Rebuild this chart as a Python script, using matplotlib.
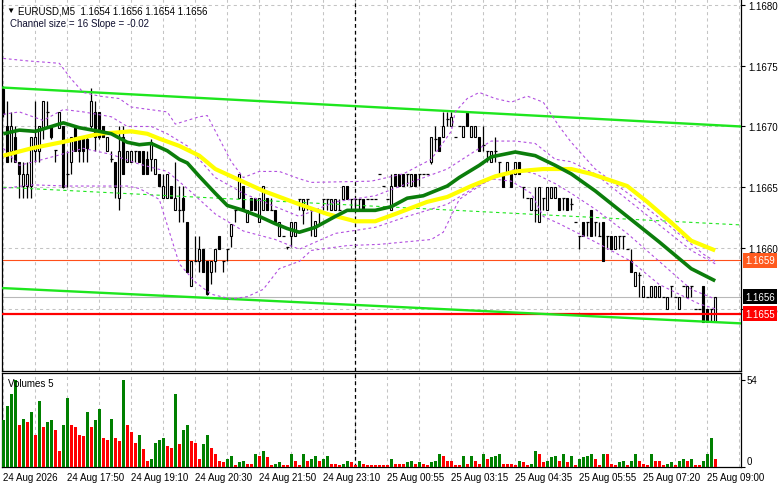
import numpy as np
import matplotlib
matplotlib.use("Agg")
import matplotlib.pyplot as plt
from matplotlib.transforms import blended_transform_factory

plt.rcParams["font.family"] = ["Liberation Sans", "DejaVu Sans"]

# ── Candles (EURUSD M5) ────────────────────────────────────────────────────────
opens = [
    1.16731, 1.16700, 1.16680, 1.16691, 1.16671, 1.16651, 1.16651, 1.16651, 1.16680, 1.16680,
    1.16699, 1.16712, 1.16700, 1.16681, 1.16699, 1.16700, 1.16661, 1.16671, 1.16700, 1.16691,
    1.16691, 1.16690, 1.16700, 1.16712, 1.16712, 1.16700, 1.16680, 1.16673, 1.16671, 1.16641,
    1.16691, 1.16671, 1.16671, 1.16680, 1.16680, 1.16680, 1.16673, 1.16673, 1.16661, 1.16661,
    1.16641, 1.16641, 1.16651, 1.16631, 1.16631, 1.16641, 1.16621, 1.16569, 1.16589, 1.16589,
    1.16599, 1.16589, 1.16580, 1.16589, 1.16610, 1.16589, 1.16599, 1.16610, 1.16631, 1.16641,
    1.16651, 1.16621, 1.16641, 1.16641, 1.16621, 1.16631, 1.16641, 1.16631, 1.16631, 1.16610,
    1.16610, 1.16601, 1.16610, 1.16610, 1.16640, 1.16631, 1.16640, 1.16631, 1.16610, 1.16631,
    1.16640, 1.16640, 1.16631, 1.16631, 1.16631, 1.16640, 1.16651, 1.16640, 1.16640, 1.16640,
    1.16640, 1.16640, 1.16640, 1.16640, 1.16661, 1.16651, 1.16640, 1.16631, 1.16661, 1.16661,
    1.16661, 1.16661, 1.16651, 1.16661, 1.16661, 1.16661, 1.16661, 1.16671, 1.16690, 1.16691,
    1.16691, 1.16706, 1.16700, 1.16691, 1.16700, 1.16691, 1.16712, 1.16691, 1.16691, 1.16691,
    1.16685, 1.16680, 1.16671, 1.16680, 1.16671, 1.16661, 1.16661, 1.16661, 1.16661, 1.16671,
    1.16650, 1.16641, 1.16631, 1.16631, 1.16621, 1.16641, 1.16631, 1.16641, 1.16641, 1.16641,
    1.16641, 1.16641, 1.16636, 1.16621, 1.16610, 1.16621, 1.16621, 1.16631, 1.16621, 1.16610,
    1.16621, 1.16610, 1.16610, 1.16599, 1.16610, 1.16610, 1.16599, 1.16589, 1.16569, 1.16578,
    1.16560, 1.16560, 1.16560, 1.16560, 1.16560, 1.16560, 1.16550, 1.16569, 1.16560, 1.16550,
    1.16569, 1.16560, 1.16569, 1.16550, 1.16550, 1.16569, 1.16550, 1.16550, 1.16540,
]
highs = [
    1.16733, 1.16721, 1.16712, 1.16700, 1.16671, 1.16671, 1.16671, 1.16691, 1.16721, 1.16700,
    1.16721, 1.16721, 1.16700, 1.16681, 1.16712, 1.16700, 1.16680, 1.16691, 1.16700, 1.16691,
    1.16691, 1.16691, 1.16732, 1.16721, 1.16712, 1.16700, 1.16691, 1.16680, 1.16671, 1.16700,
    1.16700, 1.16680, 1.16680, 1.16680, 1.16680, 1.16680, 1.16680, 1.16690, 1.16673, 1.16661,
    1.16661, 1.16661, 1.16651, 1.16671, 1.16651, 1.16651, 1.16621, 1.16589, 1.16610, 1.16610,
    1.16599, 1.16589, 1.16589, 1.16599, 1.16610, 1.16589, 1.16599, 1.16620, 1.16631, 1.16661,
    1.16651, 1.16631, 1.16641, 1.16641, 1.16641, 1.16651, 1.16641, 1.16641, 1.16631, 1.16621,
    1.16610, 1.16601, 1.16621, 1.16621, 1.16640, 1.16640, 1.16640, 1.16631, 1.16622, 1.16631,
    1.16640, 1.16640, 1.16640, 1.16640, 1.16640, 1.16651, 1.16651, 1.16640, 1.16640, 1.16640,
    1.16640, 1.16640, 1.16640, 1.16640, 1.16661, 1.16651, 1.16640, 1.16661, 1.16661, 1.16661,
    1.16661, 1.16661, 1.16661, 1.16661, 1.16661, 1.16661, 1.16661, 1.16691, 1.16700, 1.16691,
    1.16712, 1.16712, 1.16712, 1.16691, 1.16700, 1.16700, 1.16713, 1.16700, 1.16700, 1.16691,
    1.16700, 1.16680, 1.16680, 1.16691, 1.16671, 1.16661, 1.16671, 1.16661, 1.16671, 1.16671,
    1.16650, 1.16641, 1.16641, 1.16650, 1.16650, 1.16641, 1.16650, 1.16650, 1.16650, 1.16641,
    1.16641, 1.16641, 1.16641, 1.16621, 1.16610, 1.16621, 1.16621, 1.16631, 1.16621, 1.16621,
    1.16621, 1.16610, 1.16610, 1.16610, 1.16610, 1.16610, 1.16599, 1.16599, 1.16580, 1.16580,
    1.16569, 1.16560, 1.16569, 1.16569, 1.16569, 1.16560, 1.16560, 1.16569, 1.16560, 1.16560,
    1.16569, 1.16569, 1.16569, 1.16550, 1.16550, 1.16569, 1.16550, 1.16550, 1.16560,
]
lows = [
    1.16708, 1.16671, 1.16671, 1.16671, 1.16641, 1.16641, 1.16641, 1.16641, 1.16671, 1.16671,
    1.16690, 1.16700, 1.16690, 1.16671, 1.16699, 1.16649, 1.16650, 1.16661, 1.16680, 1.16671,
    1.16671, 1.16671, 1.16698, 1.16680, 1.16690, 1.16691, 1.16680, 1.16671, 1.16641, 1.16631,
    1.16661, 1.16671, 1.16671, 1.16671, 1.16671, 1.16661, 1.16661, 1.16663, 1.16661, 1.16651,
    1.16641, 1.16641, 1.16641, 1.16631, 1.16621, 1.16621, 1.16580, 1.16569, 1.16589, 1.16580,
    1.16580, 1.16561, 1.16570, 1.16580, 1.16599, 1.16580, 1.16589, 1.16601, 1.16621, 1.16641,
    1.16631, 1.16621, 1.16631, 1.16631, 1.16621, 1.16631, 1.16631, 1.16631, 1.16621, 1.16610,
    1.16610, 1.16599, 1.16601, 1.16610, 1.16631, 1.16620, 1.16631, 1.16610, 1.16610, 1.16620,
    1.16631, 1.16631, 1.16631, 1.16631, 1.16631, 1.16640, 1.16640, 1.16631, 1.16631, 1.16631,
    1.16631, 1.16640, 1.16640, 1.16640, 1.16661, 1.16651, 1.16640, 1.16631, 1.16651, 1.16651,
    1.16651, 1.16651, 1.16651, 1.16651, 1.16651, 1.16661, 1.16661, 1.16669, 1.16680, 1.16680,
    1.16691, 1.16700, 1.16700, 1.16691, 1.16700, 1.16691, 1.16700, 1.16691, 1.16691, 1.16680,
    1.16680, 1.16671, 1.16671, 1.16671, 1.16661, 1.16650, 1.16661, 1.16650, 1.16661, 1.16661,
    1.16641, 1.16641, 1.16631, 1.16621, 1.16621, 1.16631, 1.16631, 1.16641, 1.16641, 1.16631,
    1.16631, 1.16631, 1.16631, 1.16621, 1.16599, 1.16610, 1.16610, 1.16610, 1.16610, 1.16610,
    1.16589, 1.16599, 1.16599, 1.16599, 1.16599, 1.16599, 1.16599, 1.16580, 1.16569, 1.16560,
    1.16560, 1.16560, 1.16560, 1.16560, 1.16560, 1.16560, 1.16550, 1.16560, 1.16560, 1.16550,
    1.16569, 1.16560, 1.16560, 1.16550, 1.16550, 1.16539, 1.16539, 1.16539, 1.16540,
]
closes = [
    1.16710, 1.16671, 1.16700, 1.16671, 1.16661, 1.16661, 1.16661, 1.16691, 1.16691, 1.16700,
    1.16721, 1.16712, 1.16691, 1.16681, 1.16712, 1.16650, 1.16661, 1.16691, 1.16680, 1.16680,
    1.16680, 1.16682, 1.16721, 1.16691, 1.16691, 1.16691, 1.16691, 1.16673, 1.16650, 1.16680,
    1.16661, 1.16680, 1.16680, 1.16680, 1.16671, 1.16661, 1.16661, 1.16687, 1.16673, 1.16651,
    1.16651, 1.16661, 1.16641, 1.16641, 1.16631, 1.16631, 1.16580, 1.16589, 1.16589, 1.16599,
    1.16580, 1.16562, 1.16589, 1.16599, 1.16599, 1.16589, 1.16599, 1.16620, 1.16631, 1.16661,
    1.16631, 1.16631, 1.16631, 1.16631, 1.16641, 1.16651, 1.16631, 1.16631, 1.16621, 1.16621,
    1.16610, 1.16601, 1.16621, 1.16621, 1.16640, 1.16640, 1.16640, 1.16631, 1.16622, 1.16631,
    1.16640, 1.16640, 1.16640, 1.16640, 1.16631, 1.16651, 1.16640, 1.16640, 1.16640, 1.16640,
    1.16631, 1.16640, 1.16640, 1.16640, 1.16661, 1.16651, 1.16640, 1.16651, 1.16651, 1.16651,
    1.16651, 1.16661, 1.16661, 1.16651, 1.16661, 1.16661, 1.16661, 1.16691, 1.16690, 1.16680,
    1.16700, 1.16706, 1.16708, 1.16691, 1.16700, 1.16700, 1.16700, 1.16700, 1.16700, 1.16680,
    1.16685, 1.16680, 1.16680, 1.16680, 1.16671, 1.16650, 1.16671, 1.16650, 1.16671, 1.16661,
    1.16650, 1.16641, 1.16641, 1.16631, 1.16650, 1.16641, 1.16650, 1.16650, 1.16650, 1.16631,
    1.16641, 1.16631, 1.16636, 1.16621, 1.16610, 1.16610, 1.16621, 1.16610, 1.16621, 1.16610,
    1.16589, 1.16610, 1.16599, 1.16610, 1.16610, 1.16610, 1.16599, 1.16580, 1.16580, 1.16578,
    1.16569, 1.16560, 1.16569, 1.16569, 1.16569, 1.16560, 1.16560, 1.16569, 1.16560, 1.16560,
    1.16569, 1.16569, 1.16569, 1.16550, 1.16550, 1.16539, 1.16539, 1.16550, 1.16560,
]
volumes = [
    29, 38, 45, 54, 26, 30, 28, 34, 20, 41,
    25, 28, 29, 23, 10, 26, 43, 26, 25, 20,
    19, 34, 25, 29, 36, 18, 17, 30, 18, 16,
    54, 26, 22, 15, 20, 11, 4, 5, 15, 17,
    18, 13, 12, 45, 14, 23, 26, 16, 15, 5,
    14, 20, 12, 8, 4, 3, 5, 7, 1, 3,
    4, 2, 2, 8, 7, 10, 6, 1, 2, 3,
    1, 1, 8, 4, 1, 8, 4, 5, 7, 4,
    5, 7, 2, 2, 1, 2, 4, 3, 1, 4,
    2, 1, 1, 1, 1, 1, 1, 5, 2, 2,
    2, 3, 4, 2, 3, 2, 1, 3, 4, 8,
    7, 4, 4, 1, 1, 7, 2, 7, 4, 2,
    8, 5, 6, 7, 8, 2, 2, 2, 1, 4,
    3, 1, 2, 10, 8, 3, 4, 6, 7, 4,
    8, 3, 7, 1, 5, 6, 7, 8, 5, 1,
    8, 8, 2, 1, 3, 4, 1, 4, 8, 4,
    2, 1, 8, 4, 4, 1, 2, 3, 1, 4,
    5, 4, 5, 1, 1, 4, 8, 18, 5,
]

# ── Indicators (sampled off the chart) ─────────────────────────────────────────
ma_fast_x = [0, 4, 8, 12, 15, 19, 24, 27, 31, 34, 37, 41, 44, 46, 49, 53, 56, 60, 64, 68, 71,
             74, 78, 83, 86, 93, 97, 101, 105, 111, 114, 119, 122, 128, 133, 138, 142, 148,
             156, 164, 172, 178]
ma_fast = [1.16694, 1.16697, 1.16696, 1.16700, 1.16703, 1.16699, 1.16696, 1.16694, 1.16687,
           1.16685, 1.16686, 1.16680, 1.16673, 1.16670, 1.16659, 1.16645, 1.16635, 1.16631,
           1.16626, 1.16620, 1.16616, 1.16613, 1.16617, 1.16626, 1.16631, 1.16631, 1.16634,
           1.16641, 1.16643, 1.16651, 1.16658, 1.16668, 1.16675, 1.16679, 1.16676, 1.16668,
           1.16661, 1.16647, 1.16626, 1.16605, 1.16583, 1.16573]
ma_slow_x = [0, 7, 16, 24, 32, 36, 39, 44, 49, 53, 57, 61, 65, 74, 81, 88, 93, 98, 106, 111,
             117, 123, 128, 135, 142, 147, 156, 161, 167, 172, 178]
ma_slow = [1.16676, 1.16682, 1.16688, 1.16694, 1.16696, 1.16694, 1.16690, 1.16684, 1.16676,
           1.16665, 1.16659, 1.16653, 1.16647, 1.16636, 1.16628, 1.16622, 1.16622, 1.16628,
           1.16638, 1.16642, 1.16651, 1.16659, 1.16663, 1.16665, 1.16665, 1.16661, 1.16651,
           1.16638, 1.16621, 1.16606, 1.16598]

band_up_x = [0, 6, 14, 17, 20, 24, 29, 32, 41, 43, 49, 51, 54, 57, 60, 64, 69, 74, 77, 92,
             100, 107, 112, 113, 116, 119, 123, 127, 131, 135, 139, 142, 148, 157, 167, 175, 178]
band_up = [1.16756, 1.16754, 1.16752, 1.16739, 1.16728, 1.16725, 1.16723, 1.16716, 1.16712,
           1.16702, 1.16708, 1.16709, 1.16690, 1.16671, 1.16658, 1.16663, 1.16663, 1.16657,
           1.16654, 1.16655, 1.16661, 1.16673, 1.16696, 1.16712, 1.16723, 1.16728, 1.16723,
           1.16720, 1.16725, 1.16720, 1.16700, 1.16687, 1.16665, 1.16643, 1.16617, 1.16595,
           1.16589]
band_lo_x = [0, 7, 16, 24, 31, 34, 39, 44, 48, 52, 57, 61, 65, 69, 74, 77, 86, 94, 107, 110,
             114, 119, 122, 127, 132, 135, 139, 148, 157, 164, 174, 178]
band_lo = [1.16649, 1.16652, 1.16651, 1.16651, 1.16651, 1.16649, 1.16640, 1.16587, 1.16572,
           1.16562, 1.16558, 1.16560, 1.16566, 1.16583, 1.16589, 1.16598, 1.16602, 1.16603,
           1.16607, 1.16613, 1.16640, 1.16651, 1.16657, 1.16655, 1.16645, 1.16626, 1.16620,
           1.16605, 1.16589, 1.16570, 1.16554, 1.16550]
env_up_x = [0, 4, 10, 15, 20, 27, 31, 37, 41, 46, 53, 60, 68, 74, 83, 93, 101, 111, 119, 122,
            128, 133, 138, 142, 148, 156, 164, 172, 178]
env_up = [1.16710, 1.16712, 1.16705, 1.16714, 1.16712, 1.16708, 1.16700, 1.16700, 1.16694,
          1.16684, 1.16658, 1.16645, 1.16634, 1.16626, 1.16638, 1.16643, 1.16653, 1.16665,
          1.16682, 1.16688, 1.16688, 1.16686, 1.16673, 1.16671, 1.16661, 1.16640, 1.16619,
          1.16598, 1.16587]
env_lo_x = [0, 4, 10, 20, 27, 34, 41, 46, 53, 60, 68, 74, 83, 93, 101, 111, 119, 128, 133,
            138, 142, 148, 156, 164, 172, 178]
env_lo = [1.16682, 1.16668, 1.16673, 1.16682, 1.16677, 1.16669, 1.16663, 1.16649, 1.16628,
          1.16614, 1.16607, 1.16599, 1.16612, 1.16617, 1.16626, 1.16636, 1.16652, 1.16665,
          1.16661, 1.16653, 1.16645, 1.16632, 1.16612, 1.16589, 1.16566, 1.16558]

# regression channel: start / end (left edge, right edge)
chan_up = [1.16732, 1.16700]
chan_mid = [1.16650, 1.16619]
chan_lo = [1.16567, 1.16538]

LEVEL_ORANGE = 1.1659
LEVEL_RED = 1.16546
LEVEL_BID = 1.1656
SEPARATOR_BAR = 88

price_ticks = [1.1680, 1.1675, 1.1670, 1.1665, 1.1660, 1.1655]
time_labels = ["24 Aug 2026", "24 Aug 17:50", "24 Aug 19:10", "24 Aug 20:30", "24 Aug 21:50",
               "24 Aug 23:10", "25 Aug 00:55", "25 Aug 03:15", "25 Aug 04:35", "25 Aug 05:55",
               "25 Aug 07:20", "25 Aug 09:00"]

# ── Figure ─────────────────────────────────────────────────────────────────────
W, H = 781, 489
fig = plt.figure(figsize=(W / 100, H / 100), dpi=100)


def px_axes(l, t, r, b):
    return fig.add_axes([l / W, 1 - b / H, (r - l) / W, (b - t) / H])


ax = px_axes(2, 0, 741, 372)
axv = px_axes(2, 374, 741, 468)

XL = (-0.33, 184.45)
for a in (ax, axv):
    a.set_xlim(*XL)
    a.set_xticks([])
    a.set_facecolor("white")
    for s in a.spines.values():
        s.set_color("black")
        s.set_linewidth(0.9)
    for gx in range(0, 185, 8):
        a.axvline(gx, color="#c4c4c4", lw=0.75, ls=(0, (3, 3)), zorder=0)
    a.axvline(SEPARATOR_BAR, color="black", lw=0.9, ls=(0, (3, 2.5)), zorder=1)
ax.spines["top"].set_visible(False)

ax.set_ylim(1.164988, 1.168049)
for p in price_ticks:
    ax.axhline(p, color="#c4c4c4", lw=0.75, ls=(0, (3, 3)), zorder=0)
ax.yaxis.tick_right()
ax.set_yticks(price_ticks)
ax.set_yticklabels([f"{p:.4f}" for p in price_ticks])
ax.tick_params(axis="y", length=3, width=0.8, pad=2, labelsize=7, colors="black")

# candles
o, h, l, c = (np.array(v) for v in (opens, highs, lows, closes))
idx = np.arange(len(o))
ax.vlines(idx, l, h, color="black", lw=0.9, zorder=3)
up, dn, dj = c > o, c < o, c == o
ax.bar(idx[up], (c - o)[up], bottom=o[up], width=0.52, facecolor="white",
       edgecolor="black", lw=0.8, zorder=4)
ax.bar(idx[dn], (o - c)[dn], bottom=c[dn], width=0.52, facecolor="black",
       edgecolor="black", lw=0.8, zorder=4)
ax.hlines(o[dj], idx[dj] - 0.4, idx[dj] + 0.4, color="black", lw=0.9, zorder=4)

# horizontal levels
ax.axhline(LEVEL_BID, color="#b8b8b8", lw=0.8, zorder=2)
ax.axhline(LEVEL_ORANGE, color="#ff4f1a", lw=0.8, zorder=2)
ax.axhline(LEVEL_RED, color="#ff0000", lw=1.6, zorder=6)

# channel
ax.plot([0, XL[1]], chan_up, color="#1ee61e", lw=1.7, zorder=6)
ax.plot([0, XL[1]], chan_lo, color="#1ee61e", lw=1.7, zorder=6)
ax.plot([0, XL[1]], chan_mid, color="#1ee61e", lw=0.8, ls=(0, (3, 3)), zorder=6)

# bands
purple = "#b24fe0"
for bx, by in ((band_up_x, band_up), (band_lo_x, band_lo), (env_up_x, env_up), (env_lo_x, env_lo)):
    ax.plot(bx, by, color=purple, lw=0.8, ls=(0, (2.5, 2.5)), zorder=6)

# moving averages
ax.plot(ma_slow_x, ma_slow, color="#ffff00", lw=3.0, solid_capstyle="butt", zorder=7)
ax.plot(ma_fast_x, ma_fast, color="#0b7d0b", lw=2.6, solid_capstyle="butt", zorder=8)

# price boxes on the axis
ytr = blended_transform_factory(fig.transFigure, ax.transData)
for val, txt, col in ((LEVEL_ORANGE, "1.1659", "#ff5a1e"), (LEVEL_BID, "1.1656", "black"),
                      (LEVEL_RED, "1.1655", "#ff0000")):
    fig.text(745 / W, val, txt, transform=ytr, fontsize=7, color="white", va="center",
             ha="left", bbox=dict(boxstyle="square,pad=0.25", fc=col, ec="none"), zorder=5)

# header texts
fig.text(6 / W, 1 - 11 / H, "▼", fontsize=6, va="center", ha="left", color="black")
fig.text(18 / W, 1 - 11 / H, "EURUSD,M5  1.1654 1.1656 1.1654 1.1656", fontsize=7,
         va="center", ha="left", color="black")
fig.text(10 / W, 1 - 24 / H, "Channel size = 16 Slope = -0.02", fontsize=7,
         va="center", ha="left", color="#101030")

# ── Volumes ────────────────────────────────────────────────────────────────────
vol = np.array(volumes)
vcol = ["#008000"] + ["#008000" if vol[i] > vol[i - 1] else "#ff0000" for i in range(1, len(vol))]
axv.bar(idx, vol, width=0.72, color=vcol, zorder=3)
axv.set_ylim(0, 58.3)
axv.yaxis.tick_right()
axv.set_yticks([0, 54])
axv.set_yticklabels([])
axv.tick_params(axis="y", length=3, width=0.8)
vtr = blended_transform_factory(fig.transFigure, axv.transData)
fig.text(747 / W, 54, "54", transform=vtr, fontsize=7, va="center", ha="left")
fig.text(747 / W, 0.5, "0", transform=vtr, fontsize=7, va="bottom", ha="left")
fig.text(8 / W, 1 - 384 / H, "Volumes 5", fontsize=7, va="center", ha="left")

# time axis labels
ttr = blended_transform_factory(ax.transData, fig.transFigure)
for k, lab in enumerate(time_labels):
    fig.text(16 * k - 0.15, 1 - 478 / H, lab, transform=ttr, fontsize=7,
             va="center", ha="left")

fig.savefig("out.png", dpi=100, facecolor="white")
